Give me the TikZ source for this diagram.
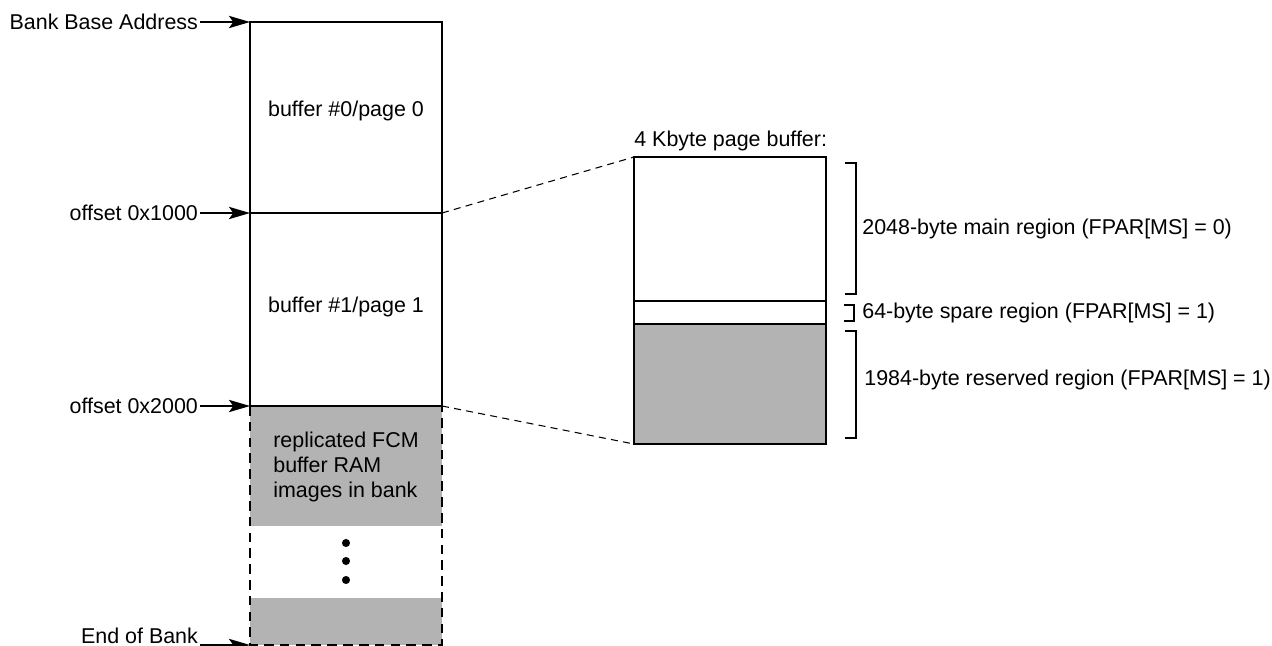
\documentclass[tikz,border=0pt]{standalone}
\usepackage{fontspec}
\setmainfont{Liberation Sans}
\usetikzlibrary{arrows.meta,positioning}
\definecolor{Shade}{HTML}{B3B3B3}
\tikzset{
  every node/.append style={font=\fontsize{12.2}{14}\selectfont, inner sep=0pt},
  region/.style={draw=black, line width=1pt},
  gap/.style={region, dash pattern=on 5.5pt off 3.5pt},
  lbl/.style={inner sep=1pt},
  arrow/.style={-{Stealth[length=12pt,width=7pt,inset=2.5pt]}, line width=1pt},
  zoomline/.style={line width=0.6pt, dash pattern=on 4pt off 3pt},
  brace/.style={line width=1pt},
}
\begin{document}
\begin{tikzpicture}[x=0.02cm, y=-0.02cm, node distance=10mm]
  \useasboundingbox (0,0) rectangle (1272,646);
  % bank of buffers
  \coordinate (b0) at (250,22);
  \coordinate (b1) at (250,213);
  \coordinate (b2) at (250,406);
  \coordinate (b3) at (250,645);
  \coordinate (c1) at (442,213);
  \coordinate (c2) at (442,406);
  \fill[Shade] (b2) rectangle (442,526);
  \fill[Shade] (250,598) rectangle (442,645);
  \draw[region] (b0) rectangle (c2);
  \draw[region] (b1) -- (c1);
  \draw[gap] (b2) -- (b3) -- (442,645) -- (c2);
  \node (buf0) at (346,111) {buffer \#0/page 0};
  \node (buf1) at (346,307) {buffer \#1/page 1};
  \node[align=left] (rep) at (346,467) {replicated FCM\\buffer RAM\\images in bank};
  \foreach \y in {543,561,580} \fill (346,\y) circle[radius=2.3pt];
  % address labels
  \node[lbl, left=of b0] (base) {Bank Base Address};
  \node[lbl, left=of b1] (off1) {offset 0x1000};
  \node[lbl, left=of b2] (off2) {offset 0x2000};
  \node[lbl, left=of b3, yshift=1.8mm] (eob) {End of Bank};
  \draw[arrow] (base) -- (b0);
  \draw[arrow] (off1) -- (b1);
  \draw[arrow] (off2) -- (b2);
  \draw[arrow] (eob.east |- b3) -- (b3);
  % page buffer
  \coordinate (p0) at (634,157);
  \coordinate (p1) at (634,301);
  \coordinate (p2) at (634,324);
  \coordinate (p3) at (634,444);
  \fill[Shade] (p2) rectangle (826,444);
  \draw[region] (p0) rectangle (826,444);
  \draw[region] (p1) -- (826,301);
  \draw[region] (p2) -- (826,324);
  \node[anchor=west] (title) at (634,141) {4 Kbyte page buffer:};
  \draw[zoomline] (c1) -- (p0);
  \draw[zoomline] (c2) -- (p3);
  % regions
  \draw[brace] (845,163) -| (856,294) -- (845,294);
  \draw[brace] (844,305) -| (854,321) -- (844,321);
  \draw[brace] (845,331) -| (856,438) -- (845,438);
  \node[anchor=west] (main) at (862,229) {2048-byte main region (FPAR[MS] = 0)};
  \node[anchor=west] (spare) at (862,313) {64-byte spare region (FPAR[MS] = 1)};
  \node[anchor=west] (resv) at (864,380) {1984-byte reserved region (FPAR[MS] = 1)};
\end{tikzpicture}
\end{document}
